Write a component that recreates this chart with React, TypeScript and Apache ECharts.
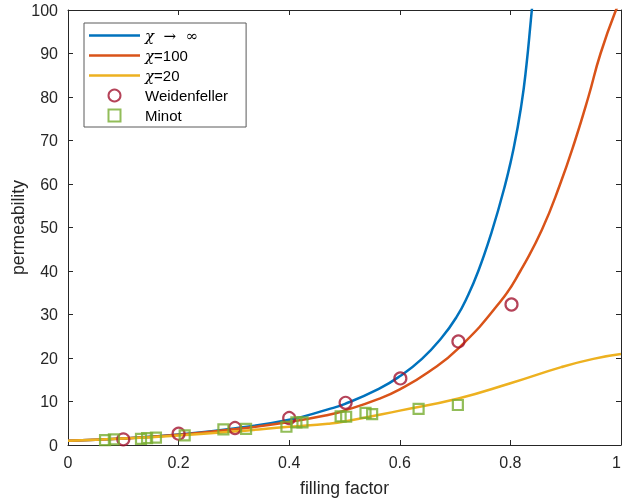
import { useEffect, useRef } from 'react';
import * as echarts from 'echarts';

// chi -> infinity curve
const xInf = [0, 0.1, 0.2, 0.3, 0.4, 0.47, 0.5, 0.562, 0.6, 0.64, 0.676, 0.703, 0.723, 0.742, 0.765, 0.789, 0.806, 0.82, 0.829, 0.837, 0.8395];
const yInf = [1.0, 1.5, 2.4, 3.8, 5.8, 8.2, 9.4, 12.9, 15.8, 19.8, 24.7, 29.5, 34.3, 40.0, 48.5, 59.1, 68.3, 78.3, 87.3, 97.7, 101];
// chi = 100 curve
const x100 = [0, 0.1, 0.2, 0.3, 0.4, 0.47, 0.5, 0.562, 0.6, 0.652, 0.706, 0.782, 0.818, 0.857, 0.89, 0.917, 0.941, 0.963, 0.991, 1.0];
const y100 = [1.0, 1.5, 2.35, 3.6, 5.3, 6.9, 7.9, 10.6, 12.8, 16.8, 22.2, 33.0, 40.0, 49.5, 60, 70, 80, 90, 100, 102];
// chi = 20 curve
const x20 = [0, 0.1, 0.2, 0.3, 0.4, 0.47, 0.5, 0.6, 0.706, 0.8, 0.892, 0.95, 1.0];
const y20 = [1.0, 1.5, 2.2, 3.1, 4.2, 4.9, 5.4, 7.9, 10.7, 14.2, 17.9, 19.8, 20.9];
// measurements
const xWeid = [0.1, 0.2, 0.302, 0.4, 0.502, 0.601, 0.706, 0.802];
const yWeid = [1.3, 2.6, 3.9, 6.2, 9.7, 15.3, 23.8, 32.3];
const xMinot = [0.067, 0.083, 0.132, 0.143, 0.159, 0.211, 0.281, 0.322, 0.395, 0.413, 0.424, 0.493, 0.503, 0.538, 0.55, 0.634, 0.705];
const yMinot = [1.1, 1.3, 1.4, 1.6, 1.7, 2.2, 3.6, 3.7, 4.2, 5.2, 5.2, 6.6, 6.5, 7.4, 7.1, 8.3, 9.2];

const seriesNames = ['χ → ∞', 'χ=100', 'χ=20', 'Weidenfeller', 'Minot'];
const xTicks = { min: 0, max: 1, interval: 0.2 };
const yTicks = { min: 0, max: 100, interval: 10 };

const zip = (xs: number[], ys: number[]) => xs.map((x, i) => [x, ys[i]]);

const AX = '#262626';
const FONT = 'Liberation Sans, Arial, Helvetica, sans-serif';
const LINE_ICON = 'path://M0,0 L51,0 L51,2.5 L0,2.5 Z';
const SQUARE_ICON = 'path://M0,0 L10,0 L10,10 L0,10 Z';

export default function App() {
  const ref = useRef<HTMLDivElement>(null);
  useEffect(() => {
    if (!ref.current) return;
    const chart = echarts.init(ref.current, null, { renderer: 'svg' });
    const lineSeries = (name: string, data: number[][], color: string) => ({
      name,
      type: 'line',
      data,
      symbol: 'none',
      smooth: true,
      lineStyle: { color, width: 2.5 },
      itemStyle: { color },
      clip: true,
      z: 2,
    });
    chart.setOption({
      animation: false,
      textStyle: { fontFamily: FONT },
      grid: { left: 68, right: 1, top: 10, bottom: 56, containLabel: false, outerBoundsMode: 'none' },
      legend: {
        orient: 'vertical',
        left: 84,
        top: 23,
        itemWidth: 51,
        itemHeight: 12,
        itemGap: 5,
        padding: [5, 18, 4, 5],
        backgroundColor: '#fff',
        borderColor: '#5a5a5a',
        borderWidth: 1,
        selectedMode: false,
        data: [
          { name: seriesNames[0], icon: LINE_ICON },
          { name: seriesNames[1], icon: LINE_ICON },
          { name: seriesNames[2], icon: LINE_ICON },
          { name: seriesNames[3], icon: 'circle' },
          { name: seriesNames[4], icon: SQUARE_ICON },
        ],
        formatter: (name: string) => {
          if (name === seriesNames[0]) return '{g|χ}{s|  →  ∞}';
          if (name.startsWith('χ')) return '{g|χ}' + name.slice(1);
          return name;
        },
        textStyle: {
          color: '#000',
          fontSize: 15,
          fontFamily: FONT,
          rich: {
            g: { fontStyle: 'italic', fontFamily: 'DejaVu Serif, serif', fontSize: 15, color: '#000' },
            s: { fontFamily: 'DejaVu Serif, serif', fontSize: 15, color: '#000' },
          },
        },
      },
      xAxis: [
        {
          type: 'value',
          ...xTicks,
          name: 'filling factor',
          nameLocation: 'middle',
          nameGap: 34,
          nameMoveOverlap: false,
          nameTextStyle: { color: AX, fontSize: 17.6, fontFamily: FONT },
          axisLine: { show: true, onZero: false, lineStyle: { color: AX, width: 1 } },
          axisTick: { show: true, inside: true, length: 5, lineStyle: { color: AX } },
          axisLabel: { color: AX, fontSize: 16, margin: 9, fontFamily: FONT, alignMaxLabel: 'right' },
          splitLine: { show: false },
        },
        {
          type: 'value',
          ...xTicks,
          position: 'top',
          axisLine: { show: true, onZero: false, lineStyle: { color: AX, width: 1 } },
          axisTick: { show: true, inside: true, length: 5, lineStyle: { color: AX } },
          axisLabel: { show: false },
          splitLine: { show: false },
        },
      ],
      yAxis: [
        {
          type: 'value',
          ...yTicks,
          name: 'permeability',
          nameLocation: 'middle',
          nameGap: 41,
          nameMoveOverlap: false,
          nameTextStyle: { color: AX, fontSize: 17.6, fontFamily: FONT },
          axisLine: { show: true, onZero: false, lineStyle: { color: AX, width: 1 } },
          axisTick: { show: true, inside: true, length: 5, lineStyle: { color: AX } },
          axisLabel: { color: AX, fontSize: 16, margin: 10, fontFamily: FONT },
          splitLine: { show: false },
        },
        {
          type: 'value',
          ...yTicks,
          position: 'right',
          axisLine: { show: true, onZero: false, lineStyle: { color: AX, width: 1 } },
          axisTick: { show: true, inside: true, length: 5, lineStyle: { color: AX } },
          axisLabel: { show: false },
          splitLine: { show: false },
        },
      ],
      series: [
        lineSeries(seriesNames[0], zip(xInf, yInf), '#0072BD'),
        lineSeries(seriesNames[1], zip(x100, y100), '#D95319'),
        lineSeries(seriesNames[2], zip(x20, y20), '#EDB120'),
        {
          name: seriesNames[3],
          type: 'scatter',
          data: zip(xWeid, yWeid),
          symbol: 'circle',
          symbolSize: 12,
          itemStyle: { color: 'rgba(0,0,0,0)', borderColor: '#A2142F', borderWidth: 2.2 },
          z: 3,
        },
        {
          name: seriesNames[4],
          type: 'scatter',
          data: zip(xMinot, yMinot),
          symbol: 'rect',
          symbolSize: 10,
          itemStyle: { color: 'rgba(0,0,0,0)', borderColor: '#77AC30', borderWidth: 2.2 },
          z: 3,
        },
      ],
    });
    return () => chart.dispose();
  }, []);
  return <div ref={ref} style={{ position: 'fixed', left: 0, top: 0, width: 622, height: 501 }} />;
}
